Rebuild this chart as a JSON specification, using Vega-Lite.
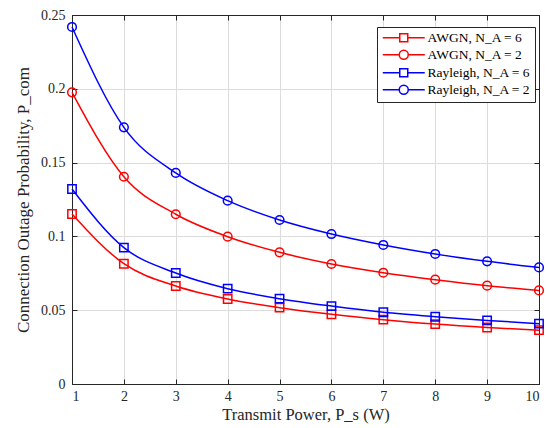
{
  "$schema": "https://vega.github.io/schema/vega-lite/v6.json",
  "autosize": "none",
  "width": 467,
  "height": 369,
  "padding": {"left": 72, "top": 15, "right": 8, "bottom": 44},
  "background": "white",
  "config": {
    "font": "Liberation Serif",
    "view": {"stroke": "#262626", "strokeWidth": 1},
    "axis": {
      "labelFont": "Liberation Serif",
      "titleFont": "Liberation Serif",
      "labelFontSize": 14,
      "titleFontSize": 16.5,
      "titleFontWeight": "normal",
      "labelColor": "#262626",
      "titleColor": "#262626",
      "domainColor": "#262626",
      "tickColor": "#262626",
      "gridColor": "#dcdcdc",
      "gridWidth": 1
    },
    "legend": {
      "labelFont": "Liberation Serif",
      "labelFontSize": 13.5,
      "labelColor": "#000000"
    }
  },
  "data": {
    "values": [
      {"P": 1, "Pcon": 0.1152, "series": "AWGN, N_A = 6"},
      {"P": 2, "Pcon": 0.0815, "series": "AWGN, N_A = 6"},
      {"P": 3, "Pcon": 0.0664, "series": "AWGN, N_A = 6"},
      {"P": 4, "Pcon": 0.0576, "series": "AWGN, N_A = 6"},
      {"P": 5, "Pcon": 0.0517, "series": "AWGN, N_A = 6"},
      {"P": 6, "Pcon": 0.0472, "series": "AWGN, N_A = 6"},
      {"P": 7, "Pcon": 0.0436, "series": "AWGN, N_A = 6"},
      {"P": 8, "Pcon": 0.0406, "series": "AWGN, N_A = 6"},
      {"P": 9, "Pcon": 0.0383, "series": "AWGN, N_A = 6"},
      {"P": 10, "Pcon": 0.0365, "series": "AWGN, N_A = 6"},
      {"P": 1, "Pcon": 0.1976, "series": "AWGN, N_A = 2"},
      {"P": 2, "Pcon": 0.1404, "series": "AWGN, N_A = 2"},
      {"P": 3, "Pcon": 0.1150, "series": "AWGN, N_A = 2"},
      {"P": 4, "Pcon": 0.0998, "series": "AWGN, N_A = 2"},
      {"P": 5, "Pcon": 0.0892, "series": "AWGN, N_A = 2"},
      {"P": 6, "Pcon": 0.0813, "series": "AWGN, N_A = 2"},
      {"P": 7, "Pcon": 0.0754, "series": "AWGN, N_A = 2"},
      {"P": 8, "Pcon": 0.0707, "series": "AWGN, N_A = 2"},
      {"P": 9, "Pcon": 0.0666, "series": "AWGN, N_A = 2"},
      {"P": 10, "Pcon": 0.0634, "series": "AWGN, N_A = 2"},
      {"P": 1, "Pcon": 0.1321, "series": "Rayleigh, N_A = 6"},
      {"P": 2, "Pcon": 0.0924, "series": "Rayleigh, N_A = 6"},
      {"P": 3, "Pcon": 0.0752, "series": "Rayleigh, N_A = 6"},
      {"P": 4, "Pcon": 0.0646, "series": "Rayleigh, N_A = 6"},
      {"P": 5, "Pcon": 0.0578, "series": "Rayleigh, N_A = 6"},
      {"P": 6, "Pcon": 0.0528, "series": "Rayleigh, N_A = 6"},
      {"P": 7, "Pcon": 0.0486, "series": "Rayleigh, N_A = 6"},
      {"P": 8, "Pcon": 0.0456, "series": "Rayleigh, N_A = 6"},
      {"P": 9, "Pcon": 0.0431, "series": "Rayleigh, N_A = 6"},
      {"P": 10, "Pcon": 0.0409, "series": "Rayleigh, N_A = 6"},
      {"P": 1, "Pcon": 0.2419, "series": "Rayleigh, N_A = 2"},
      {"P": 2, "Pcon": 0.1739, "series": "Rayleigh, N_A = 2"},
      {"P": 3, "Pcon": 0.1430, "series": "Rayleigh, N_A = 2"},
      {"P": 4, "Pcon": 0.1242, "series": "Rayleigh, N_A = 2"},
      {"P": 5, "Pcon": 0.1111, "series": "Rayleigh, N_A = 2"},
      {"P": 6, "Pcon": 0.1016, "series": "Rayleigh, N_A = 2"},
      {"P": 7, "Pcon": 0.0942, "series": "Rayleigh, N_A = 2"},
      {"P": 8, "Pcon": 0.0881, "series": "Rayleigh, N_A = 2"},
      {"P": 9, "Pcon": 0.0831, "series": "Rayleigh, N_A = 2"},
      {"P": 10, "Pcon": 0.0790, "series": "Rayleigh, N_A = 2"}
    ]
  },
  "resolve": {"axis": {"x": "independent", "y": "independent"}},
  "layer": [
    {
      "mark": {"type": "line", "interpolate": "monotone", "strokeWidth": 1.5},
      "encoding": {
        "x": {
          "field": "P", "type": "quantitative",
          "scale": {"domain": [1, 10], "nice": false, "zero": false},
          "axis": {"values": [1,2,3,4,5,6,7,8,9,10], "title": "Transmit Power, P_s (W)", "grid": true, "tickSize": -5, "labelPadding": 10, "titlePadding": 3}
        },
        "y": {
          "field": "Pcon", "type": "quantitative",
          "scale": {"domain": [0, 0.25], "nice": false},
          "axis": {"values": [0, 0.05, 0.1, 0.15, 0.2, 0.25], "format": "~g", "title": "Connection Outage Probability, P_com", "titleFontSize": 17, "grid": true, "tickSize": -5, "labelPadding": 12, "titlePadding": 8}
        },
        "color": {
          "field": "series", "type": "nominal",
          "scale": {
            "domain": ["AWGN, N_A = 6", "AWGN, N_A = 2", "Rayleigh, N_A = 6", "Rayleigh, N_A = 2"],
            "range": ["#ff0000", "#ff0000", "#0000ff", "#0000ff"]
          },
          "legend": {
            "title": null,
            "orient": "none",
            "legendX": 305,
            "legendY": 12,
            "fillColor": "white",
            "strokeColor": "#262626",
            "padding": 4,
            "rowPadding": 2,
            "symbolSize": 100,
            "symbolOffset": 16,
            "symbolStrokeWidth": 1.5,
            "labelOffset": 17,
            "encode": {
              "symbols": {
                "update": {
                  "shape": {"signal": "indexof(datum.value, '= 2') >= 0 ? 'M-4.2,0H-0.9M0.9,0H4.2M-0.9,0A0.9,0.9,0,1,1,0.9,0A0.9,0.9,0,1,1,-0.9,0' : 'M-4.2,0H-0.8M0.8,0H4.2M-0.8,-0.8H0.8V0.8H-0.8Z'"},
                  "fill": {"value": "transparent"},
                  "strokeWidth": {"value": 1.5}
                }
              }
            }
          }
        }
      }
    },
    {
      "transform": [{"filter": "indexof(datum.series, '= 6') >= 0"}],
      "mark": {"type": "point", "shape": "square", "filled": false, "size": 70, "strokeWidth": 1.5, "opacity": 1},
      "encoding": {
        "x": {"field": "P", "type": "quantitative", "axis": null},
        "y": {"field": "Pcon", "type": "quantitative", "axis": null},
        "color": {"field": "series", "type": "nominal", "legend": null}
      }
    },
    {
      "transform": [{"filter": "indexof(datum.series, '= 2') >= 0"}],
      "mark": {"type": "point", "shape": "circle", "filled": false, "size": 75, "strokeWidth": 1.5, "opacity": 1},
      "encoding": {
        "x": {"field": "P", "type": "quantitative", "axis": null},
        "y": {"field": "Pcon", "type": "quantitative", "axis": null},
        "color": {"field": "series", "type": "nominal", "legend": null}
      }
    },
    {
      "mark": {"type": "point", "opacity": 0},
      "encoding": {
        "x": {"field": "P", "type": "quantitative", "axis": {"orient": "top", "values": [1,2,3,4,5,6,7,8,9,10], "labels": false, "title": null, "grid": false, "tickSize": -5}},
        "y": {"field": "Pcon", "type": "quantitative", "axis": {"orient": "right", "values": [0, 0.05, 0.1, 0.15, 0.2, 0.25], "labels": false, "title": null, "grid": false, "tickSize": -5}}
      }
    }
  ]
}
